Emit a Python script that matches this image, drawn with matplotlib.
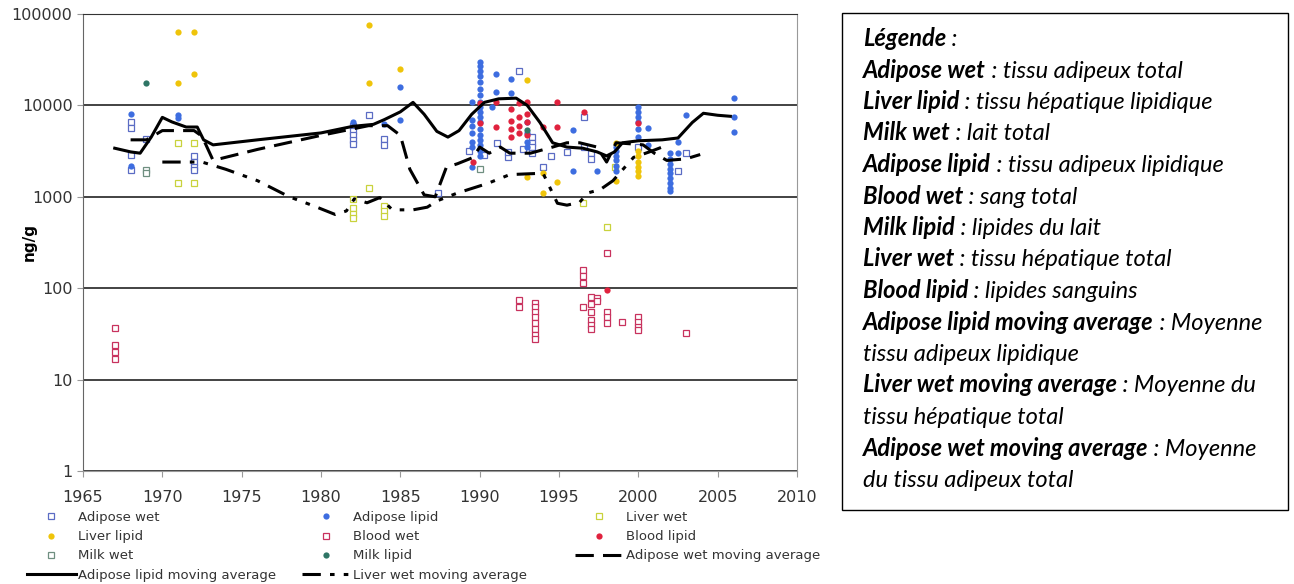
import matplotlib
matplotlib.use("Agg")
import matplotlib.pyplot as plt
from matplotlib.patches import Rectangle

# Scatter data (year, ng/g)
adipose_wet_year = [1968, 1968, 1968, 1968, 1969, 1972, 1972, 1972, 1972,
                    1982, 1982, 1982, 1982, 1982, 1983, 1984, 1984, 1987.4,
                    1989.3, 1990.3, 1991.1, 1991.8, 1991.8, 1992.5, 1992.7,
                    1993.3, 1993.3, 1993.3, 1993.3, 1994, 1994.5, 1995.5,
                    1996.6, 1996.6, 1997, 1997, 2000, 2002.5, 2003]
adipose_wet_val = [6500, 5700, 2900, 1950, 4300, 2800, 2400, 2100, 1950,
                   6000, 5300, 4700, 4200, 3800, 7800, 4300, 3700, 1100,
                   3200, 2900, 3900, 2700, 3100, 24000, 3300,
                   4500, 3900, 3500, 3000, 2100, 2800, 3100,
                   7500, 3500, 3000, 2600, 3500, 1900, 3000]

adipose_lipid_year = [1968, 1968, 1971, 1971, 1982, 1984, 1985, 1985,
                      1989.5, 1989.5, 1989.5, 1989.5, 1989.5, 1989.5, 1989.5,
                      1990, 1990, 1990, 1990, 1990, 1990, 1990, 1990, 1990,
                      1990, 1990, 1990, 1990, 1990, 1990, 1990, 1990, 1990,
                      1990.8, 1991, 1991, 1992, 1992,
                      1993, 1993, 1993, 1993, 1995.9, 1995.9, 1997.4,
                      1998.6, 1998.6, 1998.6, 1998.6, 1998.6, 1998.6,
                      2000, 2000, 2000, 2000, 2000, 2000, 2000.6, 2000.6,
                      2002, 2002, 2002, 2002, 2002, 2002, 2002, 2002, 2002,
                      2002.5, 2002.5, 2003, 2006, 2006, 2006]
adipose_lipid_val = [8000, 2200, 7800, 7200, 6500, 6300, 15800, 7000,
                     11000, 7000, 6000, 5000, 4000, 3500, 2100,
                     30000, 27000, 24000, 21000, 18000, 15000, 13000, 11000, 9500,
                     8500, 7500, 6500, 5500, 4800, 4200, 3700, 3200, 2800,
                     9500, 22000, 14000, 19500, 13500,
                     6500, 5000, 4000, 3500, 5400, 1900, 1900,
                     3500, 3200, 2800, 2500, 2200, 1900,
                     9600, 8500, 7500, 6500, 5500, 4500, 5600, 3700,
                     3000, 2600, 2300, 2000, 1800, 1600, 1400, 1250, 1150,
                     4000, 3000, 7800, 12000, 7500, 5100]

liver_wet_year = [1971, 1971, 1972, 1972, 1982, 1982, 1982, 1982, 1983,
                  1984, 1984, 1984, 1996.5, 1998, 1998.5]
liver_wet_val = [3900, 1420, 3900, 1420, 950, 750, 650, 580, 1250,
                 800, 700, 620, 850, 470, 2100]

liver_lipid_year = [1971, 1971, 1972, 1972, 1983, 1983, 1985, 1993, 1993,
                    1994, 1994, 1994.9, 1998.6, 1998.6,
                    2000, 2000, 2000, 2000, 2000, 2000]
liver_lipid_val = [63000, 17500, 63000, 22000, 75000, 17600, 25000, 19000, 1650,
                   1800, 1100, 1450, 3900, 1500,
                   3200, 2800, 2400, 2100, 1900, 1700]

blood_wet_year = [1967, 1967, 1967, 1967, 1992.5, 1992.5,
                  1993.5, 1993.5, 1993.5, 1993.5, 1993.5, 1993.5, 1993.5, 1993.5,
                  1996.5, 1996.5, 1996.5, 1996.5, 1997, 1997, 1997, 1997, 1997, 1997,
                  1997.4, 1997.4, 1998, 1998, 1998, 1998, 1999,
                  2000, 2000, 2000, 2000, 2003]
blood_wet_val = [37, 24, 20, 17, 74, 62,
                 69, 62, 55, 48, 42, 36, 31, 28,
                 160, 135, 115, 62, 80, 68, 55, 45, 40, 36,
                 78, 72, 240, 55, 48, 42, 43,
                 48, 43, 38, 35, 32]

blood_lipid_year = [1989.6, 1990, 1990, 1991, 1991, 1992, 1992, 1992, 1992,
                    1992.5, 1992.5, 1992.5, 1992.5, 1993, 1993, 1993, 1993,
                    1994, 1994.9, 1994.9, 1996.6, 1998, 2000]
blood_lipid_val = [2400, 10500, 6400, 11000, 5800, 9200, 6700, 5500, 4500,
                   10500, 7500, 6000, 5000, 11000, 8000, 6500, 4800,
                   5800, 11000, 5800, 8500, 96, 6400]

milk_wet_year = [1969, 1969, 1990]
milk_wet_val = [1950, 1800, 2000]
milk_lipid_year = [1969, 1993]
milk_lipid_val = [17600, 5400]

# Moving averages
al_ma_year = [1967, 1968, 1968.6, 1969.3, 1970, 1970.6, 1971.5, 1972.2, 1972.6,
              1973.2, 1976, 1980, 1982, 1983.3, 1984, 1985, 1985.8, 1986.5,
              1987.3, 1988, 1988.7, 1989.5, 1990.3, 1991.2, 1992.3, 1993,
              1993.8, 1994.6, 1995.5, 1996.5, 1997.4, 1998, 1998.5, 1999,
              2000, 2001.5, 2002.5, 2003.4, 2004.1, 2005, 2005.8]
al_ma_val = [3400, 3100, 3000, 4500, 7400, 6600, 5800, 5800, 4200,
             3700, 4200, 5000, 5900, 6200, 7000, 8500, 10800, 8000,
             5200, 4500, 5300, 8000, 10800, 11800, 12000, 10000,
             6500, 3900, 3500, 3400, 3100, 2800, 3100, 3900,
             4100, 4200, 4400, 6500, 8200, 7800, 7600]

aw_ma_year = [1968, 1969, 1970, 1971, 1972, 1972.5, 1973.2, 1976, 1980,
              1983, 1984.2, 1985, 1985.6, 1986.5, 1987.2, 1987.9, 1988.6,
              1989.6, 1990, 1990.6, 1991.3, 1991.9, 1993.2, 1994.6, 1995.5,
              1996.3, 1997.4, 1998, 1998.6, 1999.5, 2000.3, 2001, 2001.8,
              2003, 2003.9]
aw_ma_val = [4200, 4200, 5300, 5300, 5300, 4600, 2500, 3300, 4700,
             6000, 6000, 4700, 2000, 1050, 1000, 2100, 2300,
             2700, 3500, 3000, 3500, 3000, 3000, 3500, 3900,
             3900, 3500, 2400, 3900, 3800, 3700, 3000, 2500,
             2600, 2900]

lw_ma_year = [1970, 1972.5, 1974, 1976, 1978, 1979.5, 1980.9, 1981.6, 1982.1,
              1982.9, 1983.7, 1984.5, 1985.8, 1986.7, 1987.3, 1988.6, 1990.5,
              1991.9, 1993.6, 1994, 1994.9, 1995.5, 1996.3, 1996.8, 1997.6,
              1998.4, 1998.8, 1999.7, 2000.7, 2001.5]
lw_ma_val = [2400, 2400, 2000, 1500, 1000, 800, 640, 700, 950,
             860, 980, 720, 720, 770, 900, 1100, 1400,
             1750, 1800, 1800, 850, 810, 870, 1100, 1200,
             1500, 1800, 2700, 3100, 3500]

yticks = [1, 10, 100, 1000, 10000, 100000]
xticks = [1965, 1970, 1975, 1980, 1985, 1990, 1995, 2000, 2005, 2010]

legend_text = [
    ("Légende", " :"),
    ("Adipose wet", " : tissu adipeux total"),
    ("Liver lipid", " : tissu hépatique lipidique"),
    ("Milk wet", " : lait total"),
    ("Adipose lipid", " : tissu adipeux lipidique"),
    ("Blood wet", " : sang total"),
    ("Milk lipid", " : lipides du lait"),
    ("Liver wet", " : tissu hépatique total"),
    ("Blood lipid", " : lipides sanguins"),
    ("Adipose lipid moving average", " : Moyenne"),
    ("", "tissu adipeux lipidique"),
    ("Liver wet moving average", " : Moyenne du"),
    ("", "tissu hépatique total"),
    ("Adipose wet moving average", " : Moyenne"),
    ("", "du tissu adipeux total"),
]

W, H = 1294, 584
fig = plt.figure(figsize=(W / 100, H / 100), dpi=100)
ax = fig.add_axes([83 / W, 1 - 471 / H, (797 - 83) / W, (471 - 14) / H])

ms = 4
h_aw, = ax.plot(adipose_wet_year, adipose_wet_val, 's', ms=ms, mfc='white', mec='#5b6cc4', mew=0.9, label='Adipose wet')
h_lw, = ax.plot(liver_wet_year, liver_wet_val, 's', ms=ms, mfc='white', mec='#c9d23c', mew=0.9, label='Liver wet')
h_bw, = ax.plot(blood_wet_year, blood_wet_val, 's', ms=ms, mfc='white', mec='#c8325e', mew=0.9, label='Blood wet')
h_mw, = ax.plot(milk_wet_year, milk_wet_val, 's', ms=ms, mfc='white', mec='#6f8f80', mew=0.9, label='Milk wet')
h_al, = ax.plot(adipose_lipid_year, adipose_lipid_val, 'o', ms=ms + 0.5, color='#3d6de0', mec='none', label='Adipose lipid')
h_ll, = ax.plot(liver_lipid_year, liver_lipid_val, 'o', ms=ms + 0.5, color='#efc40a', mec='none', label='Liver lipid')
h_bl, = ax.plot(blood_lipid_year, blood_lipid_val, 'o', ms=ms + 0.5, color='#e0223e', mec='none', label='Blood lipid')
h_ml, = ax.plot(milk_lipid_year, milk_lipid_val, 'o', ms=ms + 0.5, color='#2f7565', mec='none', label='Milk lipid')

h_alma, = ax.plot(al_ma_year, al_ma_val, '-', color='black', lw=2.2, label='Adipose lipid moving average')
h_awma, = ax.plot(aw_ma_year, aw_ma_val, color='black', lw=2.2, dashes=(6, 3), label='Adipose wet moving average')
h_lwma, = ax.plot(lw_ma_year, lw_ma_val, color='black', lw=2.2, dashes=(6, 3, 1.5, 3, 1.5, 3), label='Liver wet moving average')

ax.set_yscale('log')
ax.set_xlim(1965, 2010)
ax.set_ylim(1, 100000)
ax.set_yticks(yticks)
ax.set_yticklabels([str(v) for v in yticks])
ax.minorticks_off()
ax.set_xticks(xticks)
ax.tick_params(labelsize=11.5, colors='#333333', length=4, color='#999999')
ax.tick_params(axis='x', pad=10)
ax.yaxis.grid(True, color='#222222', lw=1.2)
ax.set_axisbelow(True)
for s in ax.spines.values():
    s.set_color('#999999')
ax.spines['top'].set_color('#333333')
ax.spines['left'].set_color('#666666')
fig.text(29 / W, 1 - 242 / H, 'ng/g', fontsize=11, fontweight='bold', rotation=90,
         ha='center', va='center')

# legend below the plot: three columns like Excel
columns = [[h_aw, h_ll, h_mw, h_alma], [h_al, h_bw, h_ml, h_lwma], [h_lw, h_bl, h_awma]]
col_x = [27, 302, 575]
for hs, cx in zip(columns, col_x):
    leg = fig.legend(handles=hs, labels=[h.get_label() for h in hs], ncol=1,
                     loc='upper left', bbox_to_anchor=(cx / W, 1 - 511 / H), frameon=False,
                     fontsize=9.5, labelspacing=0.47, handlelength=3.7,
                     handletextpad=0.15, borderaxespad=0, borderpad=0, labelcolor='#333333')

# text box on the right
fig.patches.append(Rectangle((842 / W, 1 - 510 / H), (1288 - 842) / W, (510 - 13) / H,
                             transform=fig.transFigure, fill=False, ec='black', lw=1))
fig.canvas.draw()
renderer = fig.canvas.get_renderer()
fs = 17
for i, (b, it) in enumerate(legend_text):
    y = 1 - (46 + 31.5 * i) / H
    x = 863 / W
    if b:
        t = fig.text(x, y, b, fontsize=fs, family='Lato', style='italic', weight='bold', va='baseline')
        x = t.get_window_extent(renderer).x1 / W
    fig.text(x, y, it, fontsize=fs, family='Lato', style='italic', va='baseline')

fig.savefig('out.png', dpi=100)
